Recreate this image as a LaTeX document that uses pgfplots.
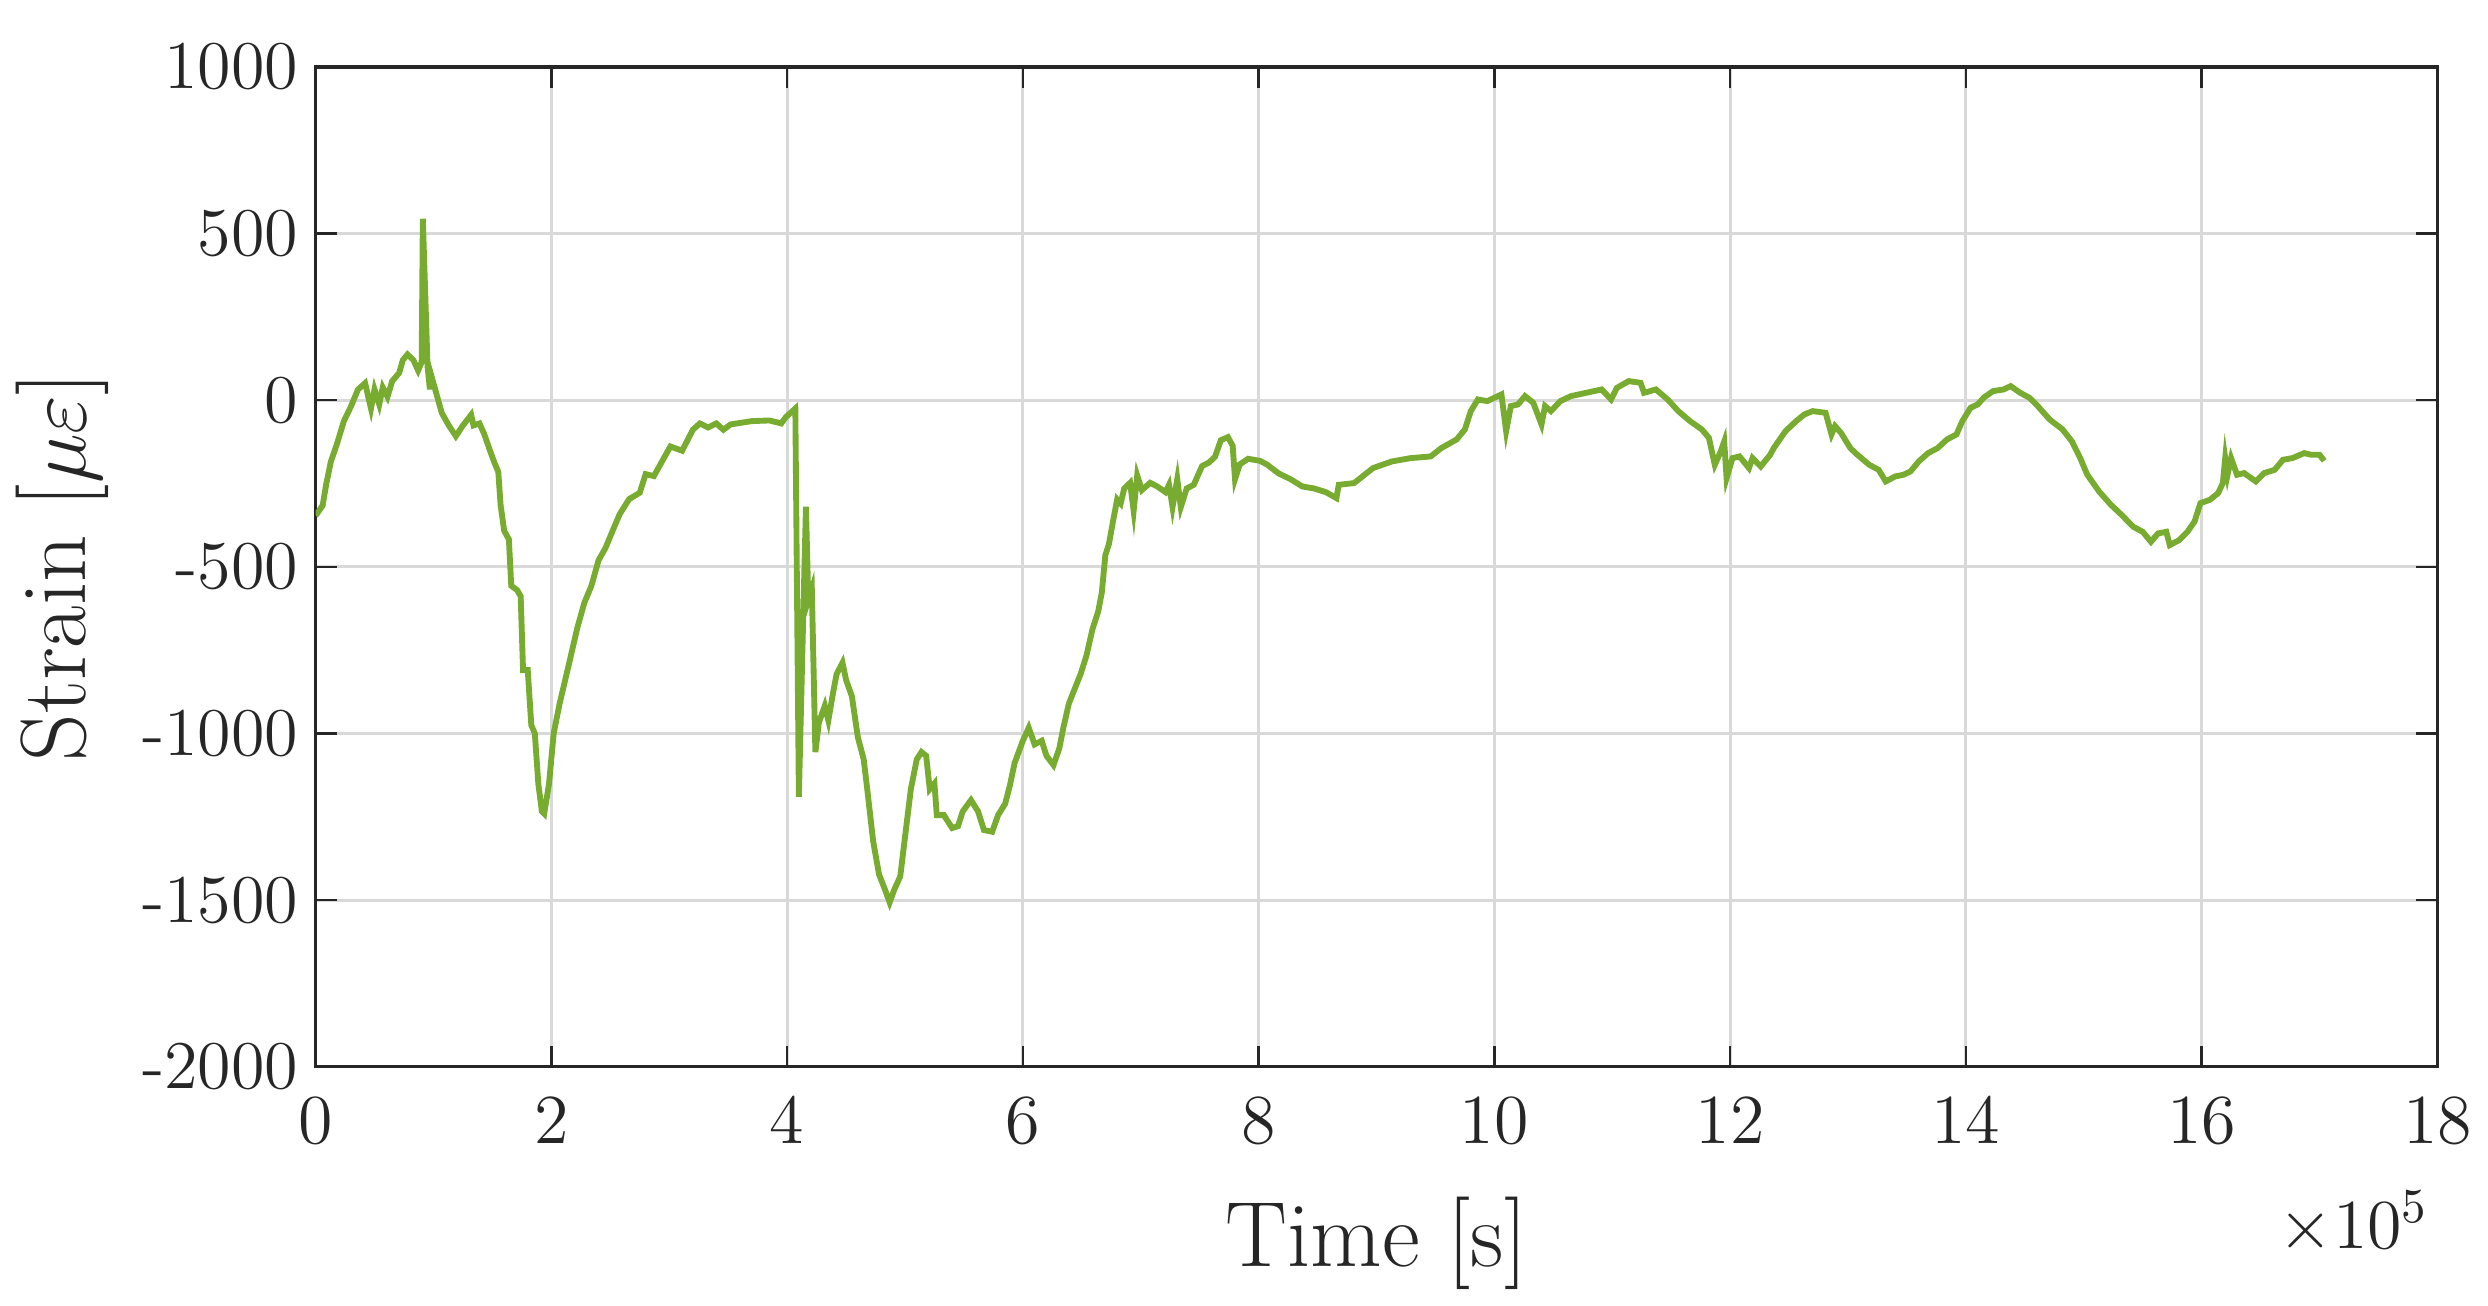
\documentclass[border=0pt]{standalone}
\usepackage{pgfplots}
\pgfplotsset{compat=1.18}
\definecolor{mgreen}{rgb}{0.466,0.674,0.188}
\definecolor{axgray}{rgb}{0.15,0.15,0.15}
\begin{document}
\begin{tikzpicture}
\begin{axis}[
    name=ax,
    scale only axis,
    width=435pt, height=205pt,
    xmin=0, xmax=18, ymin=-2000, ymax=1000,
    xtick={0,2,...,18},
    ytick={-2000,-1500,-1000,-500,0,500,1000},
    yticklabels={-2000,-1500,-1000,-500,0,500,1000},
    grid=major,
    major grid style={line width=0.6pt, draw=black!15},
    axis line style={line width=0.7pt, draw=axgray},
    major tick style={line width=0.5pt, draw=axgray},
    major tick length=4.3pt,
    tick align=inside,
    tick label style={font=\fontsize{14}{16}\selectfont, text=axgray},
    xticklabel style={yshift=-3pt},
    label style={font=\fontsize{19}{23}\selectfont, text=axgray},
    xlabel={Time [s]},
    xlabel style={yshift=-4pt},
    ylabel={Strain [$\mu\varepsilon$]},
]
\addplot[mgreen, line width=1.2pt] coordinates {
(0.00,-345) (0.01,-342) (0.06,-316) (0.09,-253) (0.13,-184) (0.18,-133)
(0.24,-63) (0.30,-19) (0.36,32) (0.42,51) (0.47,-25) (0.50,32) (0.54,-13)
(0.57,38) (0.61,10) (0.65,57) (0.71,82) (0.74,120) (0.78,137) (0.83,120)
(0.87,89) (0.90,114) (0.91,544) (0.95,101) (0.97,32) (0.98,76) (1.03,13)
(1.07,-38) (1.13,-76) (1.19,-108) (1.25,-76) (1.32,-44) (1.34,-76) (1.39,-70)
(1.43,-101) (1.48,-152) (1.52,-190) (1.55,-215) (1.57,-316) (1.60,-392)
(1.64,-418) (1.66,-557) (1.71,-570) (1.74,-589) (1.76,-810) (1.80,-810)
(1.83,-975) (1.86,-1000) (1.89,-1152) (1.92,-1234) (1.94,-1241) (1.98,-1152)
(2.02,-1000) (2.07,-911) (2.15,-791) (2.22,-684) (2.28,-608) (2.34,-557)
(2.40,-481) (2.46,-443) (2.52,-392) (2.58,-342) (2.66,-297) (2.75,-278)
(2.80,-222) (2.87,-228) (2.95,-177) (3.01,-139) (3.11,-152) (3.20,-89)
(3.26,-70) (3.33,-82) (3.40,-70) (3.46,-89) (3.52,-73) (3.70,-63) (3.85,-61)
(3.95,-70) (3.99,-51) (4.07,-25) (4.10,-1190) (4.13,-750) (4.16,-320)
(4.18,-600) (4.21,-566) (4.24,-1056) (4.27,-967) (4.32,-917) (4.35,-961)
(4.39,-878) (4.42,-822) (4.47,-788) (4.50,-839) (4.55,-889) (4.60,-1011)
(4.65,-1078) (4.68,-1167) (4.73,-1323) (4.78,-1423) (4.83,-1468) (4.87,-1507)
(4.91,-1468) (4.96,-1429) (5.00,-1312) (5.05,-1167) (5.10,-1078) (5.14,-1056)
(5.18,-1067) (5.21,-1167) (5.25,-1150) (5.27,-1245) (5.33,-1245) (5.40,-1284)
(5.45,-1278) (5.49,-1234) (5.56,-1200) (5.62,-1234) (5.67,-1290) (5.74,-1295)
(5.79,-1245) (5.85,-1211) (5.89,-1156) (5.93,-1089) (6.00,-1022) (6.05,-983)
(6.10,-1033) (6.16,-1022) (6.20,-1067) (6.26,-1095) (6.31,-1044) (6.34,-989)
(6.39,-911) (6.44,-866) (6.49,-822) (6.54,-766) (6.59,-688) (6.64,-633)
(6.67,-577) (6.70,-465) (6.73,-432) (6.77,-354) (6.80,-298) (6.83,-310)
(6.86,-265) (6.91,-248) (6.94,-332) (6.97,-226) (7.01,-270) (7.08,-248)
(7.14,-259) (7.21,-276) (7.24,-254) (7.27,-321) (7.31,-237) (7.34,-321)
(7.39,-265) (7.45,-254) (7.52,-198) (7.58,-187) (7.63,-170) (7.68,-120)
(7.74,-111) (7.78,-137) (7.80,-237) (7.84,-193) (7.91,-176) (8.01,-182)
(8.07,-193) (8.17,-220) (8.27,-237) (8.37,-259) (8.47,-265) (8.57,-276)
(8.66,-294) (8.68,-254) (8.81,-249) (8.97,-204) (9.13,-184) (9.29,-174)
(9.46,-169) (9.55,-144) (9.68,-118) (9.75,-88) (9.80,-33) (9.86,2) (9.94,-3)
(10.06,17) (10.10,-93) (10.14,-18) (10.20,-13) (10.26,12) (10.33,-8)
(10.40,-73) (10.43,-18) (10.48,-33) (10.56,-3) (10.65,12) (10.78,22)
(10.91,32) (10.99,2) (11.04,37) (11.14,57) (11.24,52) (11.27,22) (11.37,32)
(11.47,2) (11.56,-33) (11.66,-63) (11.76,-88) (11.82,-113) (11.87,-194)
(11.92,-154) (11.95,-124) (11.97,-234) (12.02,-174) (12.08,-169) (12.16,-204)
(12.19,-174) (12.26,-199) (12.34,-164) (12.37,-144) (12.47,-93) (12.56,-63)
(12.63,-43) (12.70,-33) (12.81,-38) (12.86,-103) (12.89,-78) (12.94,-98)
(13.02,-144) (13.08,-164) (13.18,-194) (13.26,-209) (13.32,-244) (13.40,-229)
(13.47,-224) (13.53,-214) (13.60,-184) (13.68,-159) (13.76,-144) (13.84,-118)
(13.92,-103) (13.97,-63) (14.04,-23) (14.10,-13) (14.15,7) (14.23,27)
(14.32,32) (14.38,42) (14.46,22) (14.54,7) (14.61,-18) (14.71,-58)
(14.82,-88) (14.90,-124) (14.97,-174) (15.03,-224) (15.13,-274) (15.23,-314)
(15.32,-344) (15.42,-380) (15.50,-395) (15.57,-425) (15.63,-400) (15.70,-395)
(15.73,-435) (15.81,-420) (15.88,-395) (15.94,-364) (15.99,-309) (16.07,-299)
(16.14,-279) (16.18,-249) (16.20,-174) (16.22,-224) (16.25,-174) (16.30,-224)
(16.36,-219) (16.46,-244) (16.53,-219) (16.62,-209) (16.69,-179) (16.77,-174)
(16.87,-159) (16.93,-164) (17.00,-164) (17.04,-182)
};
\end{axis}
\node[anchor=east, font=\fontsize{14}{16}\selectfont, text=axgray, inner sep=0pt]
    at ([xshift=-1.6pt, yshift=-32pt]ax.south east) {$\times10^{5}$};
% white margins above and below as in the reference
\path ([yshift=13.7pt]ax.north) ([yshift=-48.5pt]ax.south);
\end{tikzpicture}
\end{document}
